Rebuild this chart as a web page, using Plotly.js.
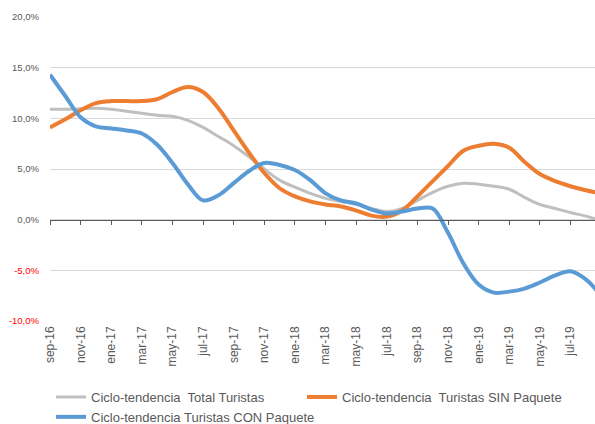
<!DOCTYPE html>
<html>
<head>
<meta charset="utf-8">
<script src="https://cdn.plot.ly/plotly-3.0.1.min.js"></script>
<style>
  html, body { margin: 0; padding: 0; background: #ffffff; }
  #chart { width: 595px; height: 424px; }
</style>
</head>
<body>
<div id="chart"></div>
<script>
// Monthly categories (sep-16 .. sep-19)
const months = ["sep-16","oct-16","nov-16","dic-16","ene-17","feb-17","mar-17","abr-17","may-17","jun-17","jul-17","ago-17",
                "sep-17","oct-17","nov-17","dic-17","ene-18","feb-18","mar-18","abr-18","may-18","jun-18","jul-18","ago-18",
                "sep-18","oct-18","nov-18","dic-18","ene-19","feb-19","mar-19","abr-19","may-19","jun-19","jul-19","ago-19","sep-19"];

// Series values (% year-on-year)
const totalTuristas = [10.9,10.9,10.95,11.0,10.9,10.7,10.5,10.3,10.2,9.8,9.1,8.2,
                       7.3,6.2,5.0,3.9,3.2,2.6,2.1,1.8,1.5,1.1,0.8,1.1,
                       1.9,2.7,3.3,3.6,3.5,3.3,3.0,2.2,1.5,1.1,0.7,0.35,-0.1];
const sinPaquete    = [9.1,9.9,10.8,11.5,11.7,11.7,11.7,11.9,12.6,13.1,12.6,11.0,
                       8.8,6.6,4.6,3.1,2.3,1.8,1.5,1.3,0.9,0.4,0.3,0.9,
                       2.3,3.8,5.3,6.8,7.3,7.5,7.1,5.7,4.5,3.8,3.3,2.9,2.6];
const conPaquete    = [14.3,12.2,10.1,9.2,9.0,8.8,8.5,7.4,5.6,3.5,1.9,2.4,
                       3.6,4.8,5.6,5.4,4.9,3.9,2.6,1.9,1.6,1.0,0.6,0.8,
                       1.1,1.1,-1.3,-4.3,-6.4,-7.2,-7.1,-6.8,-6.2,-5.5,-5.1,-5.9,-7.5];

const seriesNames = ["Ciclo-tendencia  Total Turistas",
                     "Ciclo-tendencia  Turistas SIN Paquete",
                     "Ciclo-tendencia Turistas CON Paquete"];

// Tick labels
const yTickVals  = [-10, -5, 0, 5, 10, 15, 20];
const yTickTexts = ["-10,0%", "-5,0%", "0,0%", "5,0%", "10,0%", "15,0%", "20,0%"];
const xTickLabels = months.filter((m, i) => i % 2 === 0);

const FONT = "'Liberation Sans', Arial, sans-serif";
const GREY_TXT = "#595959";

const yTickHtml = yTickVals.map((v, i) =>
  v < 0 ? '<span style="fill:#FF0000">' + yTickTexts[i] + '</span>' : yTickTexts[i]);

const xTickIdx = months.map((m, i) => i).filter(i => i % 2 === 0);

const traces = [
  { x: months, y: totalTuristas, name: seriesNames[0], type: "scatter", mode: "lines",
    line: { color: "#BFBFBF", width: 3, shape: "spline" }, hoverinfo: "skip", legend: "legend" },
  { x: months, y: sinPaquete, name: seriesNames[1], type: "scatter", mode: "lines",
    line: { color: "#ED7D31", width: 4, shape: "spline" }, hoverinfo: "skip", legend: "legend2" },
  { x: months, y: conPaquete, name: seriesNames[2], type: "scatter", mode: "lines",
    line: { color: "#5B9BD5", width: 4, shape: "spline" }, hoverinfo: "skip", legend: "legend" },
  // helper (empty) trace so the zero-axis with tick marks exists
  { x: [], y: [], xaxis: "x2", yaxis: "y", showlegend: false, hoverinfo: "skip", type: "scatter", mode: "lines" }
];

const xEnd = 35.6;

function makeLegend(xPx) {
  return {
    orientation: "v",
    xref: "container", yref: "container",
    x: xPx / 595, xanchor: "left",
    y: 1 - 382 / 424, yanchor: "top",
    font: { family: FONT, size: 13, color: GREY_TXT },
    itemwidth: 30,
    tracegroupgap: 0,
    bgcolor: "rgba(0,0,0,0)"
  };
}

const layout = {
  width: 595, height: 424,
  margin: { l: 50, r: 0, t: 17, b: 103, autoexpand: false },
  paper_bgcolor: "#ffffff", plot_bgcolor: "#ffffff",
  font: { family: FONT, color: GREY_TXT, size: 12 },
  showlegend: true,
  xaxis: {
    type: "category",
    range: [0, xEnd],
    tickmode: "array",
    tickvals: xTickLabels,
    ticktext: xTickLabels,
    tickangle: -90,
    tickfont: { family: FONT, size: 12, color: GREY_TXT },
    showgrid: false, zeroline: false, showline: false, ticks: "",
    ticklabelstandoff: 2,
    automargin: false,
    fixedrange: true
  },
  xaxis2: {
    overlaying: "x",
    anchor: "free",
    position: (0 - (-10)) / 30,
    type: "linear",
    range: [0, xEnd],
    tickmode: "array",
    tickvals: xTickIdx,
    ticks: "outside", ticklen: 4, tickwidth: 1, tickcolor: GREY_TXT,
    showticklabels: false,
    showline: true, linecolor: GREY_TXT, linewidth: 1,
    showgrid: false, zeroline: false,
    automargin: false,
    fixedrange: true
  },
  yaxis: {
    range: [-10, 20],
    tickmode: "array",
    tickvals: yTickVals,
    ticktext: yTickHtml,
    tickfont: { family: FONT, size: 9.5, color: GREY_TXT },
    showgrid: true, gridcolor: "#D9D9D9", gridwidth: 1,
    zeroline: false, showline: false, ticks: "",
    ticklabelstandoff: 10,
    automargin: false,
    fixedrange: true
  },
  legend: makeLegend(51),
  legend2: makeLegend(302)
};

Plotly.newPlot("chart", traces, layout, { displayModeBar: false, staticPlot: true });
</script>
</body>
</html>
